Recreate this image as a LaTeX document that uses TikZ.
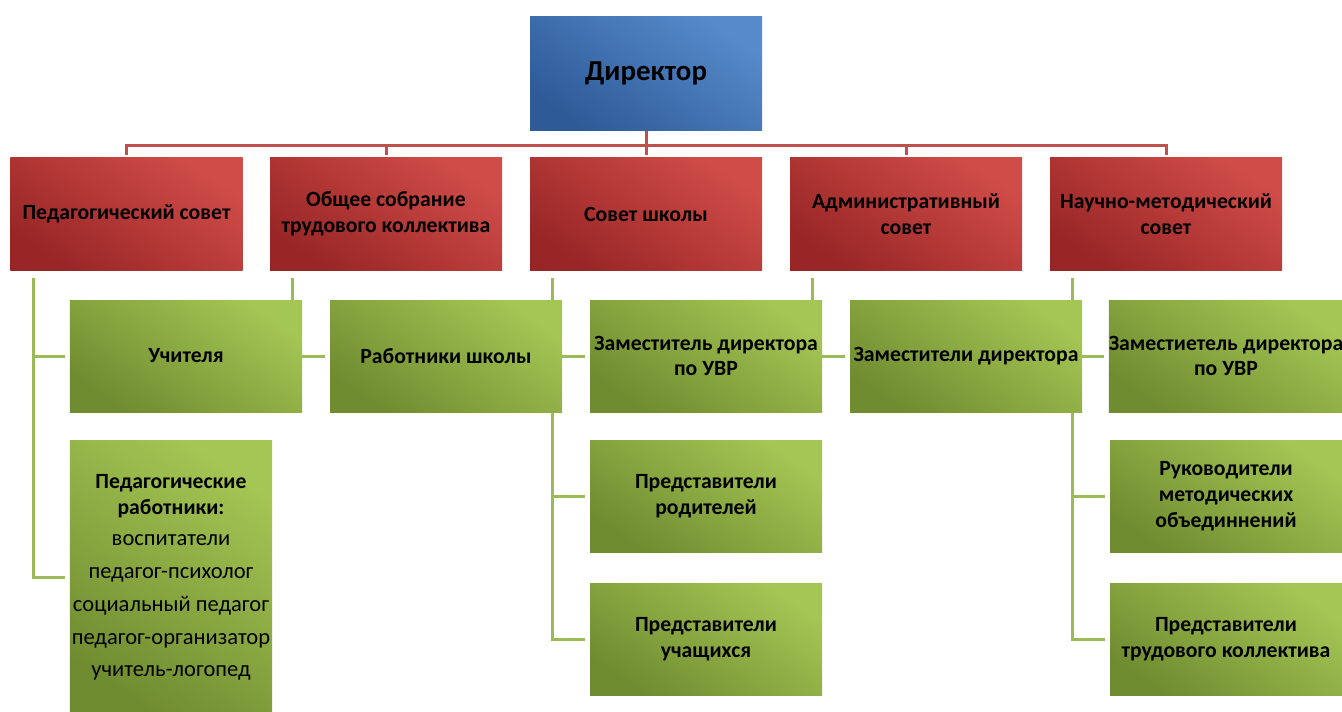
\documentclass[tikz,border=0pt]{standalone}
\usepackage{fontspec}
\setmainfont{Carlito}
\usetikzlibrary{positioning, backgrounds}

\definecolor{dirTop}{RGB}{86,138,202}
\definecolor{dirBot}{RGB}{46,90,152}
\definecolor{redTop}{RGB}{208,76,72}
\definecolor{redBot}{RGB}{152,38,38}
\definecolor{grnTop}{RGB}{164,198,84}
\definecolor{grnBot}{RGB}{112,140,48}
\definecolor{redLine}{RGB}{192,80,77}
\definecolor{grnLine}{RGB}{155,187,89}
\newcommand{\plainrow}[1]{{\fontsize{22.6}{26}\selectfont\mdseries #1}}

\begin{document}
\begin{tikzpicture}[
            x=1bp, y=-1bp,
            box/.style={
                minimum width=232bp, minimum height=112bp, inner sep=0pt,
                align=center, font=\fontsize{21.8}{26}\selectfont\bfseries
            },
            dirbox/.style={box, minimum height=113bp, top color=dirTop, bottom color=dirBot,
                shading angle=-35, font=\fontsize{29}{32}\selectfont\bfseries},
            sovbox/.style={box, top color=redTop, bottom color=redBot, shading angle=-35},
            grpbox/.style={box, top color=grnTop, bottom color=grnBot, shading angle=-35},
            redlink/.style={draw=redLine, line width=3bp},
            grnlink/.style={draw=grnLine, line width=3bp}
        ]
        \useasboundingbox (0,0) rectangle (1342,711);

        \node[dirbox] (dir) at (646,73.5) {Директор};

        \node[sovbox] (pedsov) at (126.5,214) {Педагогический совет};
        \node[sovbox] (sobr) at (386,214) {Общее собрание\\трудового коллектива};
        \node[sovbox] (sovsh) at (646,214) {Совет школы};
        \node[sovbox] (admsov) at (906,214) {Административный\\совет};
        \node[sovbox] (nmsov) at (1166,214) {Научно-методический\\совет};

        \node[grpbox] (uchit) at (186,356) {Учителя};
        \node[grpbox] (rabot) at (446,356) {Работники школы};
        \node[grpbox] (zamuvr) at (706,356) {Заместитель директора\\по УВР};
        \node[grpbox] (zamdir) at (966,356) {Заместители директора};
        \node[grpbox] (zamuvrb) at (1226,356) {Заместиетель директора\\по УВР};

        \node[grpbox, minimum width=202bp, minimum height=275bp] (pedrab) at (171,577.5)
            {Педагогические\\работники:\\[5bp]\plainrow{воспитатели}\\[7bp]\plainrow{педагог-психолог}\\[7bp]%
             \plainrow{социальный педагог}\\[7bp]\plainrow{педагог-организатор}\\[7bp]\plainrow{учитель-логопед}};
        \node[grpbox] (predrod) at (706,496.5) {Представители\\родителей};
        \node[grpbox] (preduch) at (706,639) {Представители\\учащихся};
        \node[grpbox] (rukmet) at (1226,496.5) {Руководители\\методических\\объединнений};
        \node[grpbox] (predtrud) at (1226,639) {Представители\\трудового коллектива};

        \begin{scope}[on background layer]
            \draw[redlink] (dir.south) -- ++(0,15) coordinate (bus);
            \foreach \s in {pedsov,sobr,sovsh,admsov,nmsov}
                \draw[redlink] ([yshift=3bp]\s.north) |- (bus);
            \foreach \s/\c in {pedsov/uchit, pedsov/pedrab, sobr/rabot, sovsh/zamuvr, sovsh/predrod,
                    sovsh/preduch, admsov/zamdir, nmsov/zamuvrb, nmsov/rukmet, nmsov/predtrud}
                \draw[grnlink] ([xshift=23bp,yshift=-8bp]\s.south west) |- ([xshift=-5bp]\c.west);
        \end{scope}
    \end{tikzpicture}
\end{document}
